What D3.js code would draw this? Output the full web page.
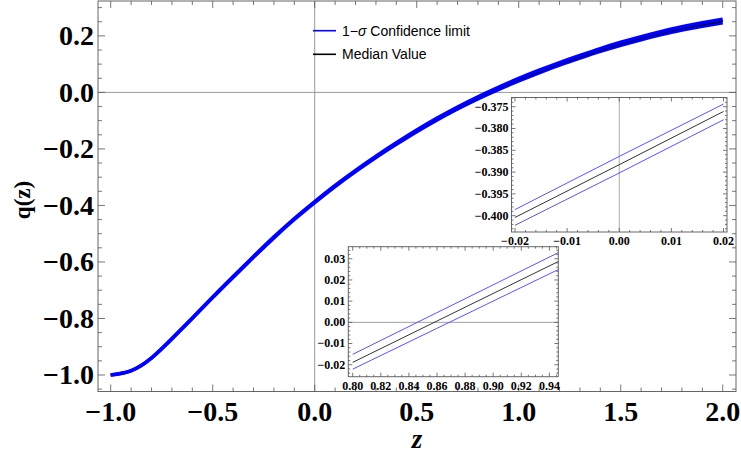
<!DOCTYPE html>
<html>
<head>
<meta charset="utf-8">
<script src="https://cdn.jsdelivr.net/npm/d3@7"></script>
<style>
body { margin: 0; background: #fff; }
svg text { font-family: "Liberation Serif", "Times New Roman", serif; font-weight: bold; }
</style>
</head>
<body>
<div id="chart-area"></div>
<script>

// data
let zValues = [-1.0, -0.9, -0.8, -0.7, -0.6, -0.5, -0.4, -0.3, -0.2, -0.1,
               0.0, 0.1, 0.2, 0.3, 0.4, 0.5, 0.6, 0.7, 0.8, 0.9,
               1.0, 1.1, 1.2, 1.3, 1.4, 1.5, 1.6, 1.7, 1.8, 1.9, 2.0];
let qMedian = [-1.000, -0.985, -0.940, -0.872, -0.799, -0.725, -0.653, -0.582, -0.513, -0.448,
               -0.388, -0.331, -0.278, -0.228, -0.181, -0.136, -0.094, -0.055, -0.019, 0.014,
               0.045, 0.074, 0.101, 0.126, 0.150, 0.172, 0.192, 0.210, 0.2265, 0.2405, 0.253];
let qSigma = [0, 0.0003, 0.0006, 0.0009, 0.0011, 0.0013, 0.0015, 0.0016, 0.0017, 0.0018,
              0.0019, 0.0021, 0.0023, 0.0025, 0.0028, 0.0030, 0.0032, 0.0035, 0.0037, 0.0040,
              0.0043, 0.0045, 0.0047, 0.0049, 0.0051, 0.0053, 0.0055, 0.0057, 0.0059, 0.0061, 0.0063];

// inset around z = 0
let inset1Z = [-0.02, 0.0, 0.02];
let inset1Median = [-0.4004, -0.3883, -0.3761];
let inset1Upper = [-0.3986, -0.3864, -0.3744];
let inset1Lower = [-0.4022, -0.3902, -0.3780];

// inset around the transition redshift
let inset2Z = [0.80, 0.875, 0.95];
let inset2Median = [-0.0189, 0.0055, 0.0299];
let inset2Upper = [-0.0151, 0.0095, 0.0341];
let inset2Lower = [-0.0221, 0.0020, 0.0261];

let mainXTicks = [-1.0, -0.5, 0.0, 0.5, 1.0, 1.5, 2.0];
let mainYTicks = [-1.0, -0.8, -0.6, -0.4, -0.2, 0.0, 0.2];
let inset1XTicks = [-0.02, -0.01, 0.0, 0.01, 0.02];
let inset1YTicks = [-0.400, -0.395, -0.390, -0.385, -0.380, -0.375];
let inset2XTicks = [0.80, 0.82, 0.84, 0.86, 0.88, 0.90, 0.92, 0.94];
let inset2YTicks = [-0.02, -0.01, 0.00, 0.01, 0.02, 0.03];

let legendLabels = ["1\u2212\u03c3 Confidence limit", "Median Value"];
let legendColors = ["#0000ff", "#000000"];

let width = 741,
    height = 469;

let svg = d3.select("#chart-area").append("svg")
    .attr("width", width)
    .attr("height", height);

// draws a Mathematica-like frame with inward ticks on all four sides
function drawFrame(g, x, y, opt) {
  let [x0, x1] = x.range(), [y0, y1] = y.range();
  g.append("rect")
    .attr("x", x0).attr("y", y1)
    .attr("width", x1 - x0).attr("height", y0 - y1)
    .attr("fill", "none")
    .attr("stroke", "#666").attr("stroke-width", 1);

  let xd = x.domain(), yd = y.domain();
  let xMinor = d3.range(Math.ceil(xd[0] / opt.xMinor - 1e-6), Math.floor(xd[1] / opt.xMinor + 1e-6) + 1)
    .map(i => i * opt.xMinor);
  let yMinor = d3.range(Math.ceil(yd[0] / opt.yMinor - 1e-6), Math.floor(yd[1] / opt.yMinor + 1e-6) + 1)
    .map(i => i * opt.yMinor);
  let isMajor = (v, list) => list.some(t => Math.abs(t - v) < 1e-9);

  xMinor.forEach(v => {
    let len = isMajor(v, opt.xTicks) ? opt.major : opt.minor;
    let px = x(v);
    g.append("line").attr("x1", px).attr("x2", px).attr("y1", y0).attr("y2", y0 - len)
      .attr("stroke", "#555").attr("stroke-width", 0.8);
    g.append("line").attr("x1", px).attr("x2", px).attr("y1", y1).attr("y2", y1 + len)
      .attr("stroke", "#555").attr("stroke-width", 0.8);
  });
  yMinor.forEach(v => {
    let len = isMajor(v, opt.yTicks) ? opt.major : opt.minor;
    let py = y(v);
    g.append("line").attr("y1", py).attr("y2", py).attr("x1", x0).attr("x2", x0 + len)
      .attr("stroke", "#555").attr("stroke-width", 0.8);
    g.append("line").attr("y1", py).attr("y2", py).attr("x1", x1).attr("x2", x1 - len)
      .attr("stroke", "#555").attr("stroke-width", 0.8);
  });

  g.selectAll(".xl").data(opt.xTicks).enter().append("text")
    .attr("x", d => x(d)).attr("y", y0 + opt.xLabelDy)
    .attr("text-anchor", "middle")
    .attr("font-size", opt.fontSize)
    .text(d => d3.format(opt.xFmt)(d));
  g.selectAll(".yl").data(opt.yTicks).enter().append("text")
    .attr("x", x0 - opt.yLabelDx).attr("y", d => y(d) + opt.fontSize * 0.33)
    .attr("text-anchor", "end")
    .attr("font-size", opt.fontSize)
    .text(d => d3.format(opt.yFmt)(d));
}

// ---- MAIN PLOT
let x = d3.scaleLinear().domain([-1.0623, 2.065]).range([98, 736]);
let y = d3.scaleLinear().domain([-1.0584, 0.3234]).range([391.5, 1]);

let main = svg.append("g");

main.append("line").attr("x1", x(0)).attr("x2", x(0)).attr("y1", y.range()[0]).attr("y2", y.range()[1])
  .attr("stroke", "#999").attr("stroke-width", 1);
main.append("line").attr("y1", y(0)).attr("y2", y(0)).attr("x1", x.range()[0]).attr("x2", x.range()[1])
  .attr("stroke", "#999").attr("stroke-width", 1);

let points = zValues.map((z, i) => ({z: z, m: qMedian[i], s: qSigma[i]}));
let lineOf = f => d3.line().x(d => x(d.z)).y(f).curve(d3.curveNatural);

main.append("path").datum(points)
  .attr("d", lineOf(d => y(d.m - d.s)))
  .attr("fill", "none").attr("stroke", "#0000ff").attr("stroke-width", 3.5);
main.append("path").datum(points)
  .attr("d", lineOf(d => y(d.m)))
  .attr("fill", "none").attr("stroke", "#000").attr("stroke-width", 2);
main.append("path").datum(points)
  .attr("d", lineOf(d => y(d.m + d.s)))
  .attr("fill", "none").attr("stroke", "#0000ff").attr("stroke-width", 3.5);

drawFrame(main, x, y, {
  xTicks: mainXTicks, yTicks: mainYTicks, xMinor: 0.1, yMinor: 0.05,
  major: 7, minor: 4, fontSize: 28, xLabelDy: 29, yLabelDx: 4,
  xFmt: ".1f", yFmt: ".1f"
});

// axis titles
svg.append("text")
  .attr("x", 417).attr("y", 448)
  .attr("text-anchor", "middle")
  .attr("font-size", 27).attr("font-style", "italic")
  .text("z");
svg.append("text")
  .attr("transform", "translate(30,200) rotate(-90)")
  .attr("text-anchor", "middle")
  .attr("font-size", 23)
  .text("q(z)");

// legend
let legend = svg.append("g");
legendLabels.forEach((lab, i) => {
  let ly = 30.7 + i * 23.6;
  legend.append("line").attr("x1", 313).attr("x2", 336).attr("y1", ly).attr("y2", ly)
    .attr("stroke", legendColors[i]).attr("stroke-width", 1.6);
  let t = legend.append("text").attr("x", 342).attr("y", ly + 5)
    .style("font-family", "'Liberation Sans', Arial, sans-serif")
    .style("font-weight", "normal")
    .attr("font-size", 14);
  if (i === 0) {
    t.append("tspan").text("1\u2212");
    t.append("tspan").attr("font-style", "italic").text("\u03c3");
    t.append("tspan").text(" Confidence limit");
  } else {
    t.text(lab);
  }
});

// ---- INSETS
function drawInset(xs, ys, zs, med, up, lo, opt) {
  let g = svg.append("g");
  let clipId = "clip" + opt.id;
  g.append("clipPath").attr("id", clipId).append("rect")
    .attr("x", xs.range()[0]).attr("y", ys.range()[1])
    .attr("width", xs.range()[1] - xs.range()[0]).attr("height", ys.range()[0] - ys.range()[1]);
  g.append("rect")
    .attr("x", xs.range()[0]).attr("y", ys.range()[1])
    .attr("width", xs.range()[1] - xs.range()[0]).attr("height", ys.range()[0] - ys.range()[1])
    .attr("fill", "#fff");
  let inner = g.append("g").attr("clip-path", "url(#" + clipId + ")");
  if (opt.vZero) {
    inner.append("line").attr("x1", xs(0)).attr("x2", xs(0)).attr("y1", ys.range()[0]).attr("y2", ys.range()[1])
      .attr("stroke", "#aaa").attr("stroke-width", 1);
  }
  if (opt.hZero) {
    inner.append("line").attr("y1", ys(0)).attr("y2", ys(0)).attr("x1", xs.range()[0]).attr("x2", xs.range()[1])
      .attr("stroke", "#888").attr("stroke-width", 0.8);
  }
  let l = d3.line().x((d, i) => xs(zs[i])).y(d => ys(d));
  inner.append("path").datum(up).attr("d", l).attr("fill", "none").attr("stroke", "#5555ff").attr("stroke-width", 1);
  inner.append("path").datum(med).attr("d", l).attr("fill", "none").attr("stroke", "#333").attr("stroke-width", 1);
  inner.append("path").datum(lo).attr("d", l).attr("fill", "none").attr("stroke", "#5555ff").attr("stroke-width", 1);
  drawFrame(g, xs, ys, opt);
}

let ix1 = d3.scaleLinear().domain([-0.02067, 0.02067]).range([511.5, 727]);
let iy1 = d3.scaleLinear().domain([-0.40374, -0.37289]).range([232, 97.5]);
drawInset(ix1, iy1, inset1Z, inset1Median, inset1Upper, inset1Lower, {
  id: 1, vZero: true,
  xTicks: inset1XTicks, yTicks: inset1YTicks, xMinor: 0.002, yMinor: 0.001,
  major: 4, minor: 2, fontSize: 12, xLabelDy: 13, yLabelDx: 3,
  xFmt: ".2f", yFmt: ".3f"
});

let ix2 = d3.scaleLinear().domain([0.79687, 0.94633]).range([348.3, 558.3]);
let iy2 = d3.scaleLinear().domain([-0.02566, 0.0357]).range([376.7, 246.7]);
drawInset(ix2, iy2, inset2Z, inset2Median, inset2Upper, inset2Lower, {
  id: 2, hZero: true,
  xTicks: inset2XTicks, yTicks: inset2YTicks, xMinor: 0.005, yMinor: 0.002,
  major: 4, minor: 2, fontSize: 12, xLabelDy: 13, yLabelDx: 3,
  xFmt: ".2f", yFmt: ".2f"
});

</script>
</body>
</html>
